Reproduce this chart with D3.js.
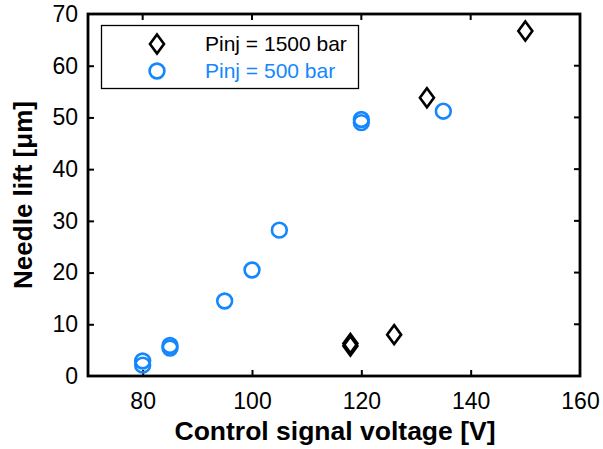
<!DOCTYPE html>
<html><head><meta charset="utf-8">
<script src="https://cdn.jsdelivr.net/npm/d3@7"></script>
<style>body{margin:0;background:#fff}svg{display:block}text{font-family:"Liberation Sans",Arial,sans-serif}</style>
</head><body>
<svg id="c" width="603" height="449"></svg>
<script>
const xTicks = [80, 100, 120, 140, 160];
const yTicks = [0, 10, 20, 30, 40, 50, 60, 70];
const hiX = [118, 118, 126, 132, 150];
const hiY = [5.8, 6.3, 8, 53.8, 66.7];
const loX = [80, 80, 85, 85, 95, 100, 105, 120, 120, 135];
const loY = [2.1, 2.9, 5.4, 5.9, 14.5, 20.5, 28.2, 49.0, 49.6, 51.2];
const seriesNames = ["Pinj = 1500 bar", "Pinj = 500 bar"];
const blue = "#1487ff";

const svg = d3.select("#c");
const L = 88, R = 580, T = 14, B = 376;
const x = d3.scaleLinear().domain([70, 160]).range([L, R]);
const y = d3.scaleLinear().domain([0, 70]).range([B, T]);

const gx = svg.append("g").attr("transform", `translate(0,${B})`)
  .call(d3.axisBottom(x).tickValues(xTicks).tickSizeInner(-6).tickSizeOuter(0).tickPadding(17));
const gy = svg.append("g").attr("transform", `translate(${L},0)`)
  .call(d3.axisLeft(y).tickValues(yTicks).tickSizeInner(-6).tickSizeOuter(0).tickPadding(10));
[gx, gy].forEach(g => {
  g.select(".domain").remove();
  g.selectAll(".tick line").attr("stroke", "#000").attr("stroke-width", 2);
  g.selectAll(".tick text").attr("font-size", 23).attr("fill", "#000");
});
gx.selectAll(".tick text").attr("dy", "0.71em");
gx.selectAll(".tick").filter(d => d === 160).select("line").remove();
gy.selectAll(".tick").filter(d => d === 0 || d === 70).select("line").remove();

svg.append("g").selectAll("line").data(xTicks.filter(d => d < 160)).join("line")
  .attr("x1", d => x(d)).attr("x2", d => x(d)).attr("y1", T).attr("y2", T + 6)
  .attr("stroke", "#000").attr("stroke-width", 2);
svg.append("g").selectAll("line").data(yTicks.filter(d => d > 0 && d < 70)).join("line")
  .attr("x1", R).attr("x2", R - 6).attr("y1", d => y(d)).attr("y2", d => y(d))
  .attr("stroke", "#000").attr("stroke-width", 2);

svg.append("rect").attr("x", L).attr("y", T).attr("width", R - L).attr("height", B - T)
  .attr("fill", "none").attr("stroke", "#000").attr("stroke-width", 2.8);

svg.append("text").attr("x", (L + R) / 2 + 1).attr("y", 440).attr("text-anchor", "middle")
  .attr("font-size", 26.5).attr("font-weight", "bold").text("Control signal voltage [V]");
svg.append("text").attr("transform", `translate(32,${(T + B) / 2}) rotate(-90)`)
  .attr("text-anchor", "middle").attr("font-size", 26).attr("font-weight", "bold").text("Needle lift [μm]");

const diamond = (cx, cy) => `M${cx},${cy - 9.5}L${cx + 7},${cy}L${cx},${cy + 9.5}L${cx - 7},${cy}Z`;

svg.append("g").selectAll("path").data(hiX.map((v, i) => [v, hiY[i]])).join("path")
  .attr("d", d => diamond(x(d[0]), y(d[1])))
  .attr("fill", "none").attr("stroke", "#000").attr("stroke-width", 2.6);
svg.append("g").selectAll("circle").data(loX.map((v, i) => [v, loY[i]])).join("circle")
  .attr("cx", d => x(d[0])).attr("cy", d => y(d[1])).attr("r", 7.4)
  .attr("fill", "none").attr("stroke", blue).attr("stroke-width", 2.6);

const lg = svg.append("g");
lg.append("rect").attr("x", 101.5).attr("y", 25.5).attr("width", 257).attr("height", 63)
  .attr("fill", "#fff").attr("stroke", "#000").attr("stroke-width", 1.3);
lg.append("path").attr("d", diamond(157, 44)).attr("fill", "none").attr("stroke", "#000").attr("stroke-width", 2.6);
lg.append("circle").attr("cx", 157).attr("cy", 71).attr("r", 7.4).attr("fill", "none").attr("stroke", blue).attr("stroke-width", 2.6);
lg.append("text").attr("x", 205).attr("y", 51).attr("font-size", 21).attr("fill", "#000").text(seriesNames[0]);
lg.append("text").attr("x", 205).attr("y", 78).attr("font-size", 21).attr("fill", blue).text(seriesNames[1]);
</script>
</body></html>
